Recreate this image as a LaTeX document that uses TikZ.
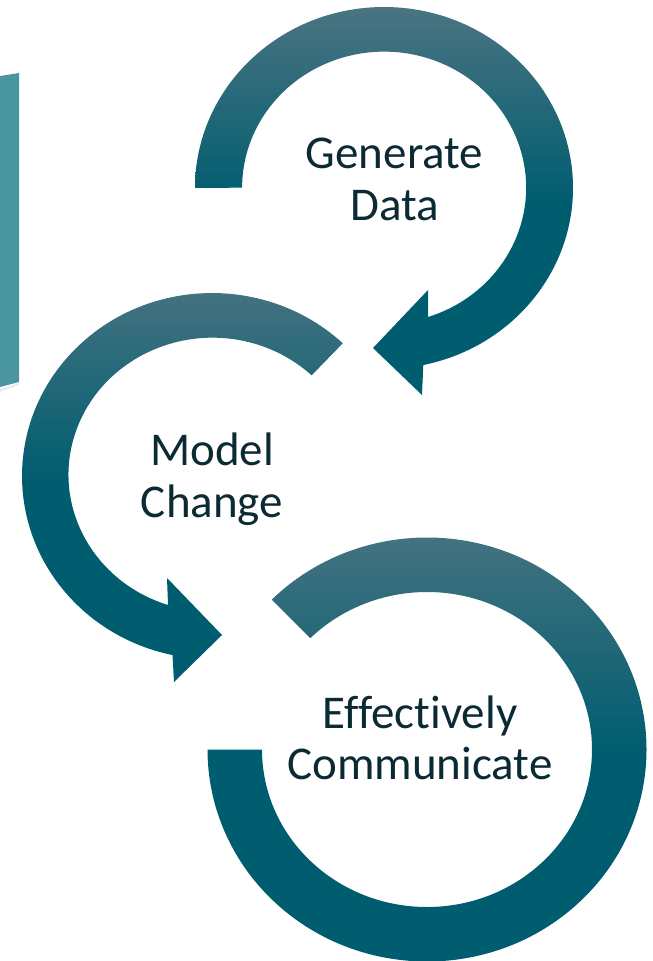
\documentclass[tikz,border=0pt]{standalone}
\usepackage{fontspec}
\setmainfont{Carlito}[Ligatures={NoCommon}]
\definecolor{ringtop}{HTML}{4A7482}
\definecolor{ringdark}{HTML}{005D6F}
\definecolor{txt}{HTML}{0B2A33}
\definecolor{panel}{HTML}{4A96A0}
\begin{document}
\begin{tikzpicture}[x=1pt,y=1pt,
  ring/.style={draw=none, top color=ringtop, bottom color=ringdark, middle color=ringdark},
  label/.style={anchor=base, text=txt, inner sep=0pt, font=\fontsize{47}{52}\selectfont}]
\useasboundingbox (0,0) rectangle (653,-961);
\clip (0,0) rectangle (653,-961);
% side panel
\fill[black!8] (0,-389) -- (19,-383) -- (19,-385) -- (0,-392) -- cycle;
\fill[panel] (0,-76) -- (19,-73) -- (19,-382) -- (0,-387) -- cycle;
% ring 1: Generate Data
\path[ring] (195,-188) arc[start angle=180, end angle=-78, x radius=189, y radius=181]
  -- (422,-395) -- (373,-348) -- (428,-290) -- (428,-317)
  arc[start angle=-72, end angle=180, x radius=142, y radius=136] -- cycle;
% ring 2: Model Change
\path[ring] (342.8,-343.3) arc[start angle=46.5, end angle=258, x radius=190, y radius=183]
  -- (174,-682) -- (222,-635) -- (167,-578) -- (168,-605)
  arc[start angle=252, end angle=46.5, x radius=144, y radius=137] -- cycle;
% ring 3: Effectively Communicate
\path[ring] (271.8,-599.6) arc[start angle=135, end angle=-180, x radius=219.5, y radius=212]
  -- (262,-749.5)
  arc[start angle=180, end angle=495, x radius=165, y radius=157.5] -- cycle;
% labels
\node[label] (gen1) at (394.5,-168) {Generate};
\node[label] (gen2) at (394.5,-220) {Data};
\node[label] (mod1) at (212,-465) {Model};
\node[label] (mod2) at (212,-517) {Change};
\node[label] (eff1) at (420,-728) {Effectively};
\node[label] (eff2) at (420,-779) {Communicate};
\end{tikzpicture}
\end{document}
